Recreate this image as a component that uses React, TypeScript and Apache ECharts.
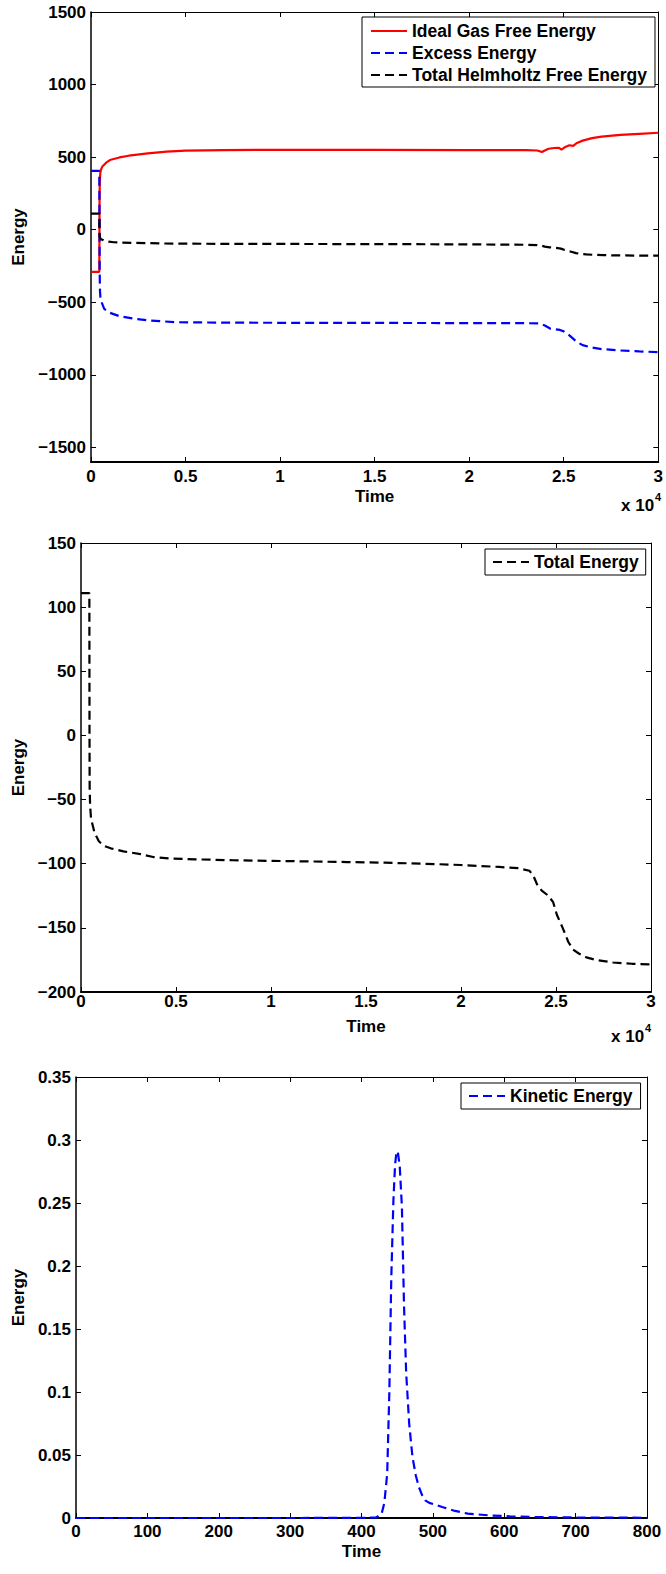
import React, { useEffect, useRef } from "react";
import * as echarts from "echarts";

// Free energy components vs time  [time, energy]
const idealGasFreeEnergy: [number, number][] = [
  [0, -290], [440, -290], [452, 200], [465, 330], [490, 390], [530, 415], [600, 435],
  [800, 462], [1000, 480], [1500, 498], [2000, 510], [3000, 526], [4000, 538],
  [5000, 545], [7000, 549], [10000, 550], [15000, 550], [20000, 549], [23000, 548],
  [23600, 546], [23850, 535], [24000, 546], [24200, 558], [24500, 563], [24750, 564],
  [24880, 552], [25050, 568], [25300, 582], [25500, 578], [25700, 598], [26000, 614],
  [26500, 631], [27000, 642], [28000, 653], [29000, 661], [30000, 668],
];

const excessEnergy: [number, number][] = [
  [0, 405], [440, 405], [452, 0], [460, -300], [475, -420], [500, -470], [560, -500],
  [700, -545], [1000, -572], [1500, -595], [2400, -615], [3000, -624], [4500, -637],
  [7000, -640], [10000, -641], [15000, -642], [20000, -643], [23000, -644],
  [23700, -645], [24000, -660], [24300, -682], [24800, -690], [25000, -700],
  [25300, -728], [25700, -773], [26000, -795], [26500, -812], [27000, -822],
  [28000, -832], [29000, -838], [30000, -843],
];

const totalFreeEnergy: [number, number][] = [
  [0, 111], [440, 111], [448, 0], [455, -40], [480, -55], [530, -65], [715, -76],
  [940, -82.5], [1200, -86], [1565, -88], [2235, -90.4], [3130, -92.5], [3800, -94.8],
  [4690, -96], [6000, -96.6], [8000, -97.3], [11000, -98], [14000, -98.7],
  [16000, -99.2], [18000, -100], [20000, -101], [22000, -102.5], [23000, -103.5],
  [23600, -105.5], [23800, -109], [24000, -116], [24250, -121], [24600, -125],
  [24850, -130], [25050, -140], [25350, -150], [25650, -161], [25900, -167],
  [26200, -170], [26600, -173], [27100, -175], [28000, -177], [29000, -178],
  [30000, -178.5],
];

// Kinetic energy over the first 800 time units
const kineticEnergy: [number, number][] = [
  [0, 0], [100, 0], [200, 0], [300, 0], [400, 0.0001], [420, 0.0003], [428, 0.003],
  [432, 0.012], [436, 0.035], [439, 0.1], [441.7, 0.19], [444.7, 0.252], [447, 0.28],
  [449, 0.291], [451, 0.29], [453.6, 0.279], [456.6, 0.247], [459.6, 0.168],
  [462.6, 0.115], [466.8, 0.075], [471.4, 0.0485], [476, 0.034], [480.4, 0.0246],
  [485, 0.018], [489.3, 0.014], [495, 0.012], [501, 0.011], [513, 0.0087],
  [531, 0.0056], [549, 0.0035], [578.6, 0.0021], [608, 0.0013], [650, 0.0007],
  [700, 0.0004], [750, 0.0003], [800, 0.0002],
];

const freeEnergyTicks = [-1500, -1000, -500, 0, 500, 1000, 1500];

const FONT = "'Liberation Sans', Arial, Helvetica, sans-serif";
const DASH = [9, 5];

// plain numbers with a typographic minus, no thousands separators
const num = (v: number) => {
  const s = String(parseFloat(v.toFixed(6)));
  return s.replace("-", "\u2212");
};

const label = (extra: any = {}) => ({
  color: "#000",
  fontFamily: FONT,
  fontWeight: "bold",
  fontSize: 17,
  ...extra,
});

function mainAxes(gridIndex: number, xMin: number, xMax: number, xStep: number,
  yMin: number, yMax: number, yStep: number | null, opts: any) {
  const tick = { inside: true, length: 5, lineStyle: { color: "#000", width: 1 } };
  const xBottom: any = {
    type: "value", gridIndex, position: "bottom", min: xMin, max: xMax, interval: xStep,
    name: "Time", nameLocation: "middle", nameGap: opts.timeGap,
    nameTextStyle: label(),
    axisLine: { onZero: false, lineStyle: { color: "#000", width: 2 } },
    axisTick: tick, splitLine: { show: false },
    axisLabel: label({ margin: opts.xLabelMargin, formatter: opts.xFormatter, showMinLabel: true, showMaxLabel: true }),
  };
  const xTop: any = {
    type: "value", gridIndex, position: "top", min: xMin, max: xMax, interval: xStep,
    axisLine: { onZero: false, lineStyle: { color: "#000", width: 1 } },
    axisTick: tick, axisLabel: { show: false }, splitLine: { show: false },
  };
  const yLeft: any = {
    type: "value", gridIndex, position: "left", min: yMin, max: yMax,
    name: "Energy", nameLocation: "middle", nameGap: opts.energyGap,
    nameTextStyle: label(),
    axisLine: { onZero: false, lineStyle: { color: "#000", width: 1.5 } },
    splitLine: { show: false },
    axisTick: { ...tick },
    axisLabel: label({ margin: 5, formatter: num, showMinLabel: true, showMaxLabel: true }),
  };
  const yRight: any = {
    type: "value", gridIndex, position: "right", min: yMin, max: yMax,
    axisLine: { onZero: false, lineStyle: { color: "#000", width: 1 } },
    axisTick: { ...tick }, axisLabel: { show: false }, splitLine: { show: false },
  };
  if (yStep !== null) {
    yLeft.interval = yStep;
    yRight.interval = yStep;
  } else {
    yLeft.axisTick.customValues = opts.yTicks;
    yLeft.axisLabel.customValues = opts.yTicks;
    yRight.axisTick.customValues = opts.yTicks;
  }
  return { x: [xBottom, xTop], y: [yLeft, yRight] };
}

function lineSeries(name: string, data: [number, number][], color: string, idx: number, dashed: boolean) {
  return {
    type: "line", name, data, xAxisIndex: idx, yAxisIndex: idx,
    showSymbol: false, symbol: "none", clip: true,
    lineStyle: { color, width: 2.2, type: dashed ? DASH : "solid" },
    itemStyle: { color },
  };
}

function legendBox(names: string[], left: number, top: number, padding: number[]) {
  return {
    data: names, orient: "vertical", left, top, padding,
    itemWidth: 36, itemHeight: 14, itemGap: 2,
    borderColor: "#000", borderWidth: 1, backgroundColor: "#fff",
    selectedMode: false,
    itemStyle: { opacity: 0 },
    textStyle: label({ fontSize: 17.5, lineHeight: 20 }),
  };
}

function exponentLabel(right: number, y: number) {
  return [
    { type: "text", x: right - 35, y: y, style: { text: "x 10", font: `bold 17px ${FONT}`, fill: "#000", textVerticalAlign: "middle" } },
    { type: "text", x: right - 1, y: y - 8, style: { text: "4", font: `bold 11px ${FONT}`, fill: "#000", textVerticalAlign: "middle" } },
  ];
}

export default function App() {
  const ref = useRef<HTMLDivElement>(null);

  useEffect(() => {
    if (!ref.current) return;
    const chart = echarts.init(ref.current, null, { renderer: "svg" });
    const fmt1e4 = (v: number) => num(v / 10000);

    const a1 = mainAxes(0, 0, 30000, 5000, -1600, 1500, null, {
      timeGap: 26, xLabelMargin: 6, xFormatter: fmt1e4, energyGap: 60, yTicks: freeEnergyTicks,
    });
    const a2 = mainAxes(1, 0, 30000, 5000, -200, 150, 50, {
      timeGap: 26, xLabelMargin: 1, xFormatter: fmt1e4, energyGap: 50,
    });
    const a3 = mainAxes(2, 0, 800, 100, 0, 0.35, 0.05, {
      timeGap: 25, xLabelMargin: 5, xFormatter: num, energyGap: 46,
    });

    chart.setOption({
      animation: false,
      backgroundColor: "#fff",
      grid: [
        { left: 91, top: 12, width: 571, height: 450 },
        { left: 81, top: 543, width: 570, height: 449 },
        { left: 76, top: 1077, width: 571, height: 441 },
      ],
      xAxis: [...a1.x, ...a2.x, ...a3.x],
      yAxis: [...a1.y, ...a2.y, ...a3.y],
      legend: [
        legendBox(["Ideal Gas Free Energy", "Excess Energy", "Total Helmholtz Free Energy"], 362, 17, [4, 8, 2, 8]),
        legendBox(["Total Energy"], 485, 549, [3, 7, 3, 7]),
        legendBox(["Kinetic Energy"], 461, 1083, [3, 8, 3, 7]),
      ],
      series: [
        lineSeries("Ideal Gas Free Energy", idealGasFreeEnergy, "#ff0000", 0, false),
        lineSeries("Excess Energy", excessEnergy, "#0000ff", 0, true),
        lineSeries("Total Helmholtz Free Energy", totalFreeEnergy, "#000000", 0, true),
        lineSeries("Total Energy", totalFreeEnergy, "#000000", 2, true),
        lineSeries("Kinetic Energy", kineticEnergy, "#0000ff", 4, true),
      ],
      graphic: [...exponentLabel(656, 505), ...exponentLabel(646, 1036)],
    });

    return () => chart.dispose();
  }, []);

  return (
    <div
      ref={ref}
      style={{ position: "absolute", left: 0, top: 0, width: 666, height: 1574, background: "#fff" }}
    />
  );
}
